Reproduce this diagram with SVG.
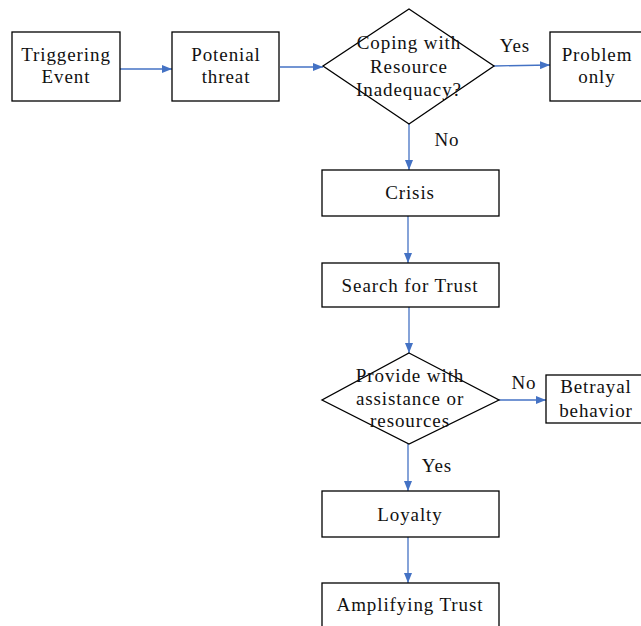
<svg xmlns="http://www.w3.org/2000/svg" width="641" height="626" viewBox="0 0 641 626">
<style>
.box{fill:#fff;stroke:#000;stroke-width:1.3}
.t{font-family:"Liberation Serif","Times New Roman",serif;font-size:19px;letter-spacing:0.9px;fill:#111;text-anchor:middle}
.c{stroke:#4472C4;stroke-width:1.3;fill:none;marker-end:url(#ah)}
</style>
<defs>
<marker id="ah" markerWidth="10" markerHeight="8" refX="10" refY="4" orient="auto" markerUnits="userSpaceOnUse">
<path d="M0,0 L10,4 L0,8 Z" fill="#4472C4"/>
</marker>
</defs>
<rect width="641" height="626" fill="#fff"/>
<g id="connectors">
<line class="c" x1="120" y1="69" x2="172" y2="69"/>
<line class="c" x1="280" y1="67" x2="323" y2="67"/>
<line class="c" x1="494" y1="66" x2="550" y2="65"/>
<line class="c" x1="409" y1="124" x2="409" y2="170"/>
<line class="c" x1="408" y1="216" x2="408" y2="263"/>
<line class="c" x1="409" y1="307" x2="409" y2="353"/>
<line class="c" x1="499" y1="400" x2="546" y2="400"/>
<line class="c" x1="408" y1="444" x2="408" y2="491"/>
<line class="c" x1="408" y1="537" x2="408" y2="583"/>
<text class="t" x="515" y="52">Yes</text>
<text class="t" x="447" y="146">No</text>
<text class="t" x="524" y="389">No</text>
<text class="t" x="437" y="472">Yes</text>
</g>
<g id="triggering">
<rect class="box" x="12" y="32" width="108" height="69"/>
<text class="t" x="66" y="61">Triggering</text>
<text class="t" x="66" y="83">Event</text>
</g>
<g id="potential">
<rect class="box" x="172" y="32" width="107" height="69"/>
<text class="t" x="226" y="61">Potenial</text>
<text class="t" x="226" y="83">threat</text>
</g>
<g id="coping">
<polygon class="box" points="409,9 494,66 409,124 323,66" style="fill:none"/>
<text class="t" x="409" y="49">Coping with</text>
<text class="t" x="409" y="73">Resource</text>
<text class="t" x="409" y="96">Inadequacy?</text>
</g>
<g id="problem">
<rect class="box" x="550" y="32" width="100" height="69"/>
<text class="t" x="597" y="61">Problem</text>
<text class="t" x="597" y="83">only</text>
</g>
<g id="crisis">
<rect class="box" x="322" y="170" width="177" height="46"/>
<text class="t" x="410" y="199">Crisis</text>
</g>
<g id="search">
<rect class="box" x="322" y="263" width="177" height="44"/>
<text class="t" x="410" y="292">Search for Trust</text>
</g>
<g id="provide">
<polygon class="box" points="409,353 499,400 409,444 322,400" style="fill:none"/>
<text class="t" x="410" y="382">Provide with</text>
<text class="t" x="410" y="405">assistance or</text>
<text class="t" x="410" y="427">resources</text>
</g>
<g id="betrayal">
<rect class="box" x="546" y="375" width="100" height="48"/>
<text class="t" x="596" y="393">Betrayal</text>
<text class="t" x="596" y="417">behavior</text>
</g>
<g id="loyalty">
<rect class="box" x="322" y="491" width="177" height="46"/>
<text class="t" x="410" y="521">Loyalty</text>
</g>
<g id="amplifying">
<rect class="box" x="322" y="583" width="177" height="50"/>
<text class="t" x="410" y="611">Amplifying Trust</text>
</g>
</svg>
